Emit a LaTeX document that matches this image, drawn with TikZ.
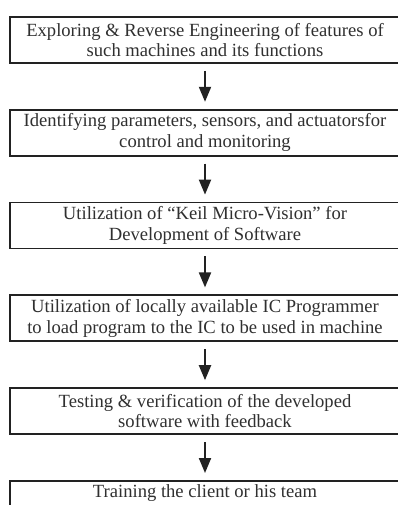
\documentclass[tikz,border=0pt]{standalone}
\usepackage{fontspec}
\setmainfont{Liberation Serif}
\usetikzlibrary{arrows.meta,positioning}
\definecolor{ink}{HTML}{222222}
\definecolor{txt}{HTML}{303030}
\begin{document}
\begin{tikzpicture}[x=1pt,y=-1pt,
  stagebox/.style={draw=ink, line width=1.8pt, rectangle, anchor=north,
    minimum width=390pt, minimum height=46pt, inner sep=0pt, align=center,
    text=txt, font=\fontsize{18.6}{20.5}\selectfont},
  flow/.style={draw=ink, line width=2pt,
    -{Triangle[width=12pt,length=15pt]}}]
\clip (0,0) rectangle (398,505);
\fill[white] (0,0) rectangle (398,505);
\node[stagebox] (s1) at (205,16)
  {Exploring \& Reverse Engineering of features of\\such machines and its functions};
\node[stagebox] (s2) at (205,108.8)
  {Identifying parameters, sensors, and actuatorsfor\\control and monitoring};
\node[stagebox] (s3) at (205,201.6)
  {Utilization of “Keil Micro-Vision” for\\Development of Software};
\node[stagebox] (s4) at (205,294.4)
  {Utilization of locally available IC Programmer\\to load program to the IC to be used in machine};
\node[stagebox] (s5) at (205,387.2)
  {Testing \& verification of the developed\\software with feedback};
\node[stagebox, inner ysep=4pt, text depth=32pt] (s6) at (205,480)
  {Training the client or his team};
\foreach \a/\b in {s1/s2,s2/s3,s3/s4,s4/s5,s5/s6}
  \draw[flow] ([yshift=-7pt]\a.south) -- ([yshift=7pt]\b.north);
\end{tikzpicture}
\end{document}
